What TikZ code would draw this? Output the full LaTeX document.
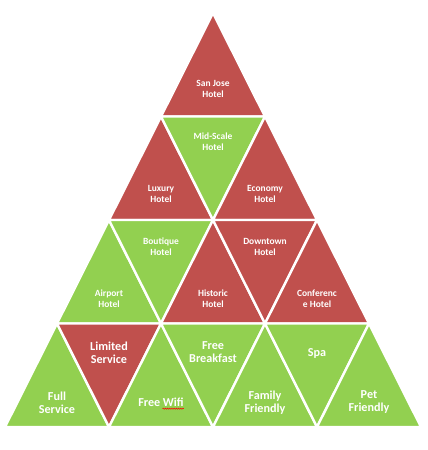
\documentclass[tikz,border=0pt]{standalone}
\usepackage{fontspec}
\setmainfont{Carlito}
\usetikzlibrary{decorations.pathmorphing}
\definecolor{brick}{HTML}{C0504D}
\definecolor{lime}{HTML}{92D050}
\tikzset{
  redtri/.style={
    fill=brick,
    draw=white,
    line width=2.4bp,
    line join=round
  },
  greentri/.style={
    redtri,
    fill=lime
  },
  hotellabel/.style={
    text=white,
    font=\bfseries\fontsize{9.5}{11}\selectfont,
    align=center,
    inner sep=0pt
  },
  featurelabel/.style={
    text=white,
    font=\bfseries\fontsize{12.2}{13}\selectfont,
    align=center,
    inner sep=0pt
  },
  squiggle/.style={
    draw=red,
    line width=0.5bp,
    decorate,
    decoration={snake,amplitude=0.6bp,segment length=2.2bp}
  }
}

\begin{document}
\begin{tikzpicture}[x=52bp,y=-103.5bp]
  \useasboundingbox (-4.0962,-0.1256) rectangle (4.1346,4.2222);

  % Top row
  \filldraw[redtri] (0,0) -- (-1,1) -- (1,1) -- cycle;
  \node[hotellabel] (sanjose) at (0,0.73) {San Jose\\Hotel};

  % Second row
  \filldraw[redtri] (-1,1) -- (-2,2) -- (0,2) -- cycle;
  \filldraw[greentri] (-1,1) -- (1,1) -- (0,2) -- cycle;
  \filldraw[redtri] (1,1) -- (0,2) -- (2,2) -- cycle;
  \node[hotellabel] (luxury) at (-1,1.745) {Luxury\\Hotel};
  \node[hotellabel] (midscale) at (0,1.24) {Mid-Scale\\Hotel};
  \node[hotellabel] (economy) at (1,1.745) {Economy\\Hotel};

  % Third row
  \filldraw[greentri] (-2,2) -- (-3,3) -- (-1,3) -- cycle;
  \filldraw[greentri] (-2,2) -- (0,2) -- (-1,3) -- cycle;
  \filldraw[redtri] (0,2) -- (-1,3) -- (1,3) -- cycle;
  \filldraw[redtri] (0,2) -- (2,2) -- (1,3) -- cycle;
  \filldraw[redtri] (2,2) -- (1,3) -- (3,3) -- cycle;
  \node[hotellabel] (airport) at (-2,2.758) {Airport\\Hotel};
  \node[hotellabel] (boutique) at (-1,2.256) {Boutique\\Hotel};
  \node[hotellabel] (historic) at (0,2.758) {Historic\\Hotel};
  \node[hotellabel] (downtown) at (1,2.256) {Downtown\\Hotel};
  \node[hotellabel] (conference) at (2,2.758) {Conferenc\\e Hotel};

  % Bottom row
  \filldraw[greentri] (-3,3) -- (-4,4) -- (-2,4) -- cycle;
  \filldraw[redtri] (-3,3) -- (-1,3) -- (-2,4) -- cycle;
  \filldraw[greentri] (-1,3) -- (-2,4) -- (0,4) -- cycle;
  \filldraw[greentri] (-1,3) -- (1,3) -- (0,4) -- cycle;
  \filldraw[greentri] (1,3) -- (0,4) -- (2,4) -- cycle;
  \filldraw[greentri] (1,3) -- (3,3) -- (2,4) -- cycle;
  \filldraw[greentri] (3,3) -- (2,4) -- (4,4) -- cycle;
  \node[featurelabel] (full) at (-3,3.763) {Full\\Service};
  \node[featurelabel] (limited) at (-2,3.28) {Limited\\Service};
  \node[featurelabel] (wifi) at (-1,3.76) {Free Wifi};
  \node[featurelabel] (breakfast) at (0,3.28) {Free\\Breakfast};
  \node[featurelabel] (family) at (1,3.763) {Family\\Friendly};
  \node[featurelabel] (spa) at (2,3.285) {Spa};
  \node[featurelabel] (pet) at (3,3.763) {Pet\\Friendly};

  % Spelling mark under Wifi
  \draw[squiggle] ([xshift=1.5bp,yshift=-2bp]wifi.south)
    -- ([yshift=-2bp]wifi.south east);
\end{tikzpicture}
\end{document}
